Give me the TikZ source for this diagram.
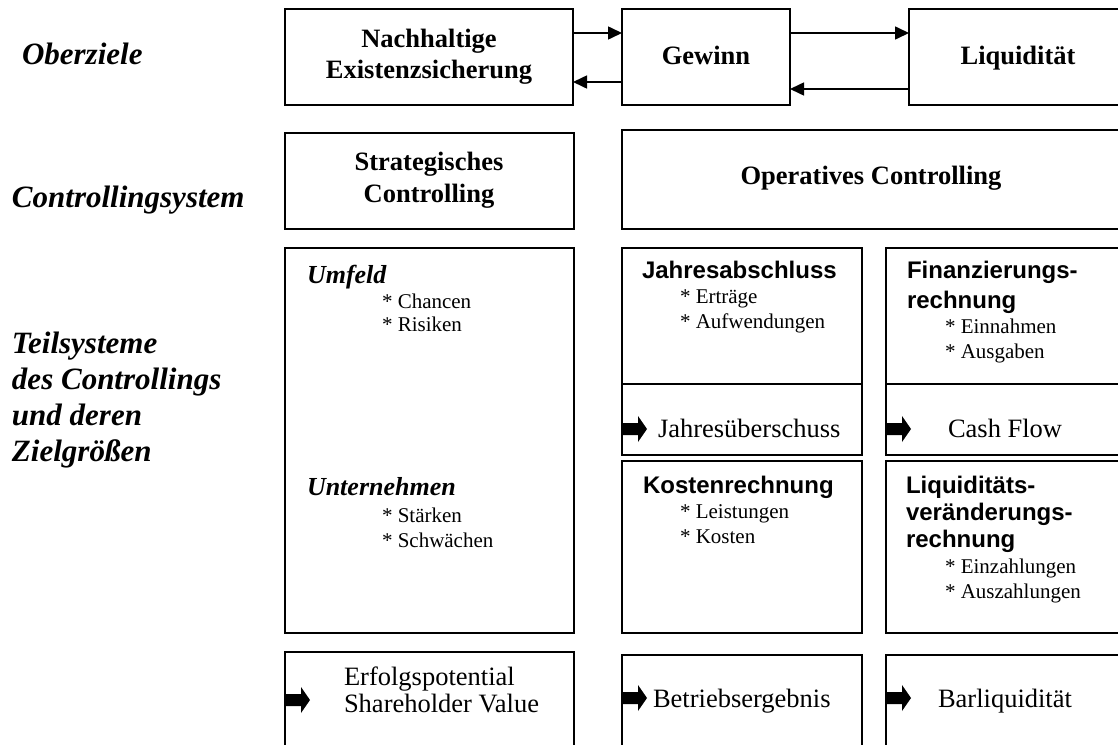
\documentclass[tikz,border=0pt]{standalone}
\usepackage{fontspec}
\setmainfont{Liberation Serif}
\newfontfamily\arialfont{Liberation Sans}
\usetikzlibrary{arrows.meta}
\newcommand\fLabel{\fontsize{31}{36}\selectfont\bfseries\itshape}
\newcommand\fTitle{\fontsize{26.5}{31}\selectfont\bfseries}
\newcommand\fHead{\fontsize{26}{30}\selectfont\bfseries\itshape}
\newcommand\fSans{\arialfont\fontsize{24}{28}\selectfont\bfseries}
\newcommand\fItem{\fontsize{21}{24}\selectfont}
\newcommand\fValue{\fontsize{26.5}{30}\selectfont}
\begin{document}
\begin{tikzpicture}[x=1pt,y=-1pt,
  box/.style n args={2}{draw, line width=1.6pt, minimum width=#1, minimum height=#2,
    anchor=north west, inner sep=0pt, outer sep=0pt},
  tw/.style={anchor=base west, inner sep=0pt, outer sep=0pt},
  tc/.style={anchor=base, inner sep=0pt, outer sep=0pt},
  conn/.style={line width=1.6pt, -{Triangle[length=14pt,width=13pt]}},
  blockarrow/.style={fill=black, draw=none}
]
\useasboundingbox (0,0) rectangle (1118,744);
\clip (0,0) rectangle (1118,744);
\fill[white] (0,0) rectangle (1118,744);

% row labels
\node[tw] (lOber) at (22,64) {\fLabel Oberziele};
\node[tw] (lCtrl) at (12,207) {\fLabel Controllingsystem};
\node[tw] (lT1) at (12,353) {\fLabel Teilsysteme};
\node[tw] (lT2) at (12,389) {\fLabel des Controllings};
\node[tw] (lT3) at (12,425) {\fLabel und deren};
\node[tw] (lT4) at (12,461) {\fLabel Zielgrößen};

% top row
\node[box={288pt}{96pt}] (nExist) at (285,9) {};
\node[box={168pt}{96pt}] (nGew) at (622,9) {};
\node[box={260pt}{96pt}] (nLiq) at (909,9) {};
\node[tc] (tE1) at (429,47) {\fTitle Nachhaltige};
\node[tc] (tE2) at (429,78) {\fTitle Existenzsicherung};
\node[tc] (tGew) at (706,64) {\fTitle Gewinn};
\node[tc] (tLiq) at (1018,64) {\fTitle Liquidität};

\draw[conn] ([yshift=24pt]nExist.east) -- ([yshift=24pt]nGew.west);
\draw[conn] ([yshift=-25pt]nGew.west) -- ([yshift=-25pt]nExist.east);
\draw[conn] ([yshift=24pt]nGew.east) -- ([yshift=24pt]nLiq.west);
\draw[conn] ([yshift=-32pt]nLiq.west) -- ([yshift=-32pt]nGew.east);

% second row
\node[box={289pt}{96pt}] (nStrat) at (285,133) {};
\node[box={560pt}{99pt}] (nOper) at (622,130) {};
\node[tc] (tS1) at (429,170) {\fTitle Strategisches};
\node[tc] (tS2) at (429,202) {\fTitle Controlling};
\node[tc] (tOp) at (871,184) {\fTitle Operatives Controlling};

% third row: strategic
\node[box={289pt}{385pt}] (nUmf) at (285,248) {};
\node[tw] (tUmf) at (307,283) {\fHead Umfeld};
\node[tw] (tCh) at (382,308) {\fItem * Chancen};
\node[tw] (tRi) at (382,331) {\fItem * Risiken};
\node[tw] (tUnt) at (307,495) {\fHead Unternehmen};
\node[tw] (tSt) at (382,522) {\fItem * Stärken};
\node[tw] (tSw) at (382,547) {\fItem * Schwächen};

% operative: Jahresabschluss / Finanzierungsrechnung
\node[box={240pt}{136pt}] (nJA) at (622,248) {};
\node[box={240pt}{71pt}] (nJU) at (622,384) {};
\node[box={300pt}{136pt}] (nFR) at (886,248) {};
\node[box={300pt}{71pt}] (nCF) at (886,384) {};
\node[tw] (tJA) at (642,278) {\fSans Jahresabschluss};
\node[tw] (tEr) at (680,303) {\fItem * Erträge};
\node[tw] (tAu) at (680,328) {\fItem * Aufwendungen};
\node[tw] (tFR1) at (907,278) {\fSans Finanzierungs-};
\node[tw] (tFR2) at (907,308) {\fSans rechnung};
\node[tw] (tEi) at (945,333) {\fItem * Einnahmen};
\node[tw] (tAg) at (945,358) {\fItem * Ausgaben};
\node[tw] (tJU) at (658,437) {\fValue Jahresüberschuss};
\node[tw] (tCF) at (948,437) {\fValue Cash Flow};

% operative: Kostenrechnung / Liquiditätsveränderungsrechnung
\node[box={240pt}{172pt}] (nKR) at (622,461) {};
\node[box={300pt}{172pt}] (nLV) at (886,461) {};
\node[tw] (tKR) at (643,493) {\fSans Kostenrechnung};
\node[tw] (tLe) at (680,518) {\fItem * Leistungen};
\node[tw] (tKo) at (680,543) {\fItem * Kosten};
\node[tw] (tLV1) at (906,493) {\fSans Liquiditäts-};
\node[tw] (tLV2) at (906,520) {\fSans veränderungs-};
\node[tw] (tLV3) at (906,547) {\fSans rechnung};
\node[tw] (tEz) at (945,573) {\fItem * Einzahlungen};
\node[tw] (tAz) at (945,598) {\fItem * Auszahlungen};

% bottom row
\node[box={289pt}{120pt}] (nEP) at (285,652) {};
\node[box={240pt}{120pt}] (nBE) at (622,655) {};
\node[box={300pt}{120pt}] (nBL) at (886,655) {};
\node[tw] (tEP1) at (344,685) {\fValue Erfolgspotential};
\node[tw] (tEP2) at (344,712) {\fValue Shareholder Value};
\node[tw] (tBE) at (653,707) {\fValue Betriebsergebnis};
\node[tw] (tBL) at (938,707) {\fValue Barliquidität};

% block arrows
\foreach \ax/\ay in {622/429, 886/429, 285/700, 622/698, 886/698}{
  \fill[blockarrow] (\ax,\ay-6) -- (\ax+16,\ay-6) -- (\ax+16,\ay-13) -- (\ax+25,\ay)
    -- (\ax+16,\ay+13) -- (\ax+16,\ay+6) -- (\ax,\ay+6) -- cycle;
}
\end{tikzpicture}
\end{document}
